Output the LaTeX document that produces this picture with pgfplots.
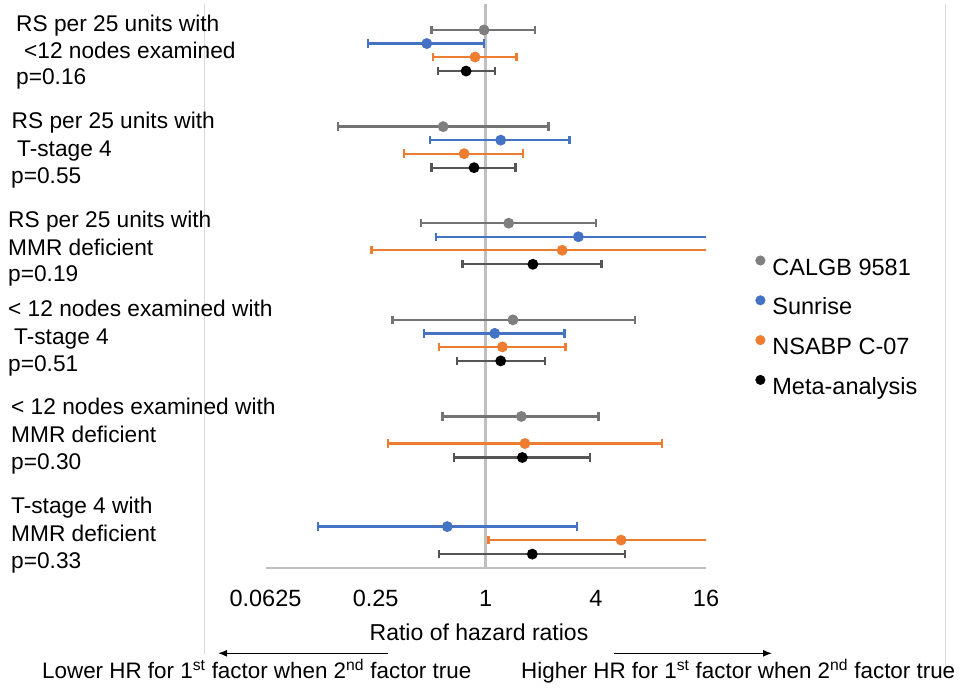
\documentclass[border=0pt]{standalone}
\usepackage{fontspec}
\setmainfont{Liberation Sans}
\usepackage{pgfplots}
\usepackage{pgfplotstable}
\pgfplotsset{compat=1.18}
\usetikzlibrary{arrows.meta}
\definecolor{cgray}{HTML}{7F7F7F}
\definecolor{cgrayci}{HTML}{737373}
\definecolor{cblue}{HTML}{4472C4}
\definecolor{corange}{HTML}{ED7D31}
\definecolor{cblack}{HTML}{000000}
\definecolor{cblackci}{HTML}{555555}
\definecolor{axisgray}{HTML}{BFBFBF}
\definecolor{framegray}{HTML}{D9D9D9}

% y = row position (group index + offset), x = ratio, lo/hi = CI bounds
\pgfplotstableread{
y x lo hi
0 0.979 0.506 1.856
1 0.585 0.156 2.204
2 1.335 0.441 4.01
3 1.408 0.309 6.57
4 1.565 0.581 4.14
}\tabgray
\pgfplotstableread{
y x lo hi
0.14 0.476 0.228 0.980
1.14 1.207 0.497 2.868
2.14 3.21 0.534 40
3.14 1.120 0.461 2.695
5.14 0.616 0.1205 3.14
}\tabblue
\pgfplotstableread{
y x lo hi
0.28 0.874 0.516 1.470
1.28 0.762 0.357 1.597
2.28 2.617 0.237 40
3.28 1.233 0.557 2.729
4.28 1.637 0.291 9.18
5.28 5.49 1.034 40
}\taborange
\pgfplotstableread{
y x lo hi
0.425 0.781 0.546 1.120
1.425 0.863 0.506 1.452
2.425 1.810 0.746 4.30
3.425 1.207 0.698 2.104
4.425 1.585 0.669 3.73
5.425 1.796 0.557 5.77
}\tabblack

\newcommand{\lbl}[3]{\node[anchor=base west, inner sep=0pt, font=\fontsize{22.7}{26}\selectfont] at (#1pt,-#2pt) {#3};}

\begin{document}
\begin{tikzpicture}
\path[use as bounding box] (0pt,0pt) rectangle (965pt,-689pt);

% chart frame lines
\draw[framegray, line width=1pt] (204.5pt,-4pt) -- (204.5pt,-654pt);
\draw[framegray, line width=1pt] (945pt,-4pt) -- (945pt,-669pt);

\begin{axis}[
  at={(265.5pt,-568.3pt)}, anchor=south west,
  scale only axis, width=440.5pt, height=564.3pt,
  xmode=log, log basis x=2,
  xmin=0.0625, xmax=16,
  ymin=-0.269, ymax=5.572, y dir=reverse,
  axis x line=bottom, axis y line=none,
  x axis line style={draw=axisgray, line width=1.7pt, -},
  xtick={0.0625,0.25,1,4,16},
  xticklabels={0.0625,0.25,1,4,16},
  major tick length=0pt, ytick=\empty,
  /pgf/number format/assume math mode=true,
  xticklabel style={font=\fontsize{23.5}{26}\selectfont, anchor=base, yshift=-37.7pt},
  xlabel={Ratio of hazard ratios},
  xlabel style={font=\fontsize{23}{26}\selectfont, at={(axis description cs:0.4847,0)}, anchor=base, yshift=-71.7pt},
  clip=true,
  legend style={at={(1.1117,0.5547)}, anchor=north west, draw=none, fill=none,
    inner sep=0pt, row sep=15.3pt,
    font=\fontsize{23.5}{26}\selectfont,
    nodes={inner sep=1pt, text height=17pt, text depth=4pt},
    /tikz/every odd column/.style={column sep=6pt}},
  legend cell align=left,
  legend image code/.code={\fill (0pt,8pt) circle (4.8pt);},
  error bars/x dir=both, error bars/x explicit,
]
\addplot[axisgray, line width=2.6pt, forget plot] coordinates {(1,-0.269) (1,5.572)};

\addplot[only marks, mark=*, color=cgray, mark size=4.9pt, mark options={line width=1pt},
  error bars/error bar style={line width=2.3pt, color=cgrayci},
  error bars/error mark options={line width=2.3pt, mark size=4.2pt, color=cgrayci, rotate=90}]
  table[x=x, y=y, x error plus expr=\thisrow{hi}-\thisrow{x}, x error minus expr=\thisrow{x}-\thisrow{lo}] {\tabgray};
\addlegendentry{CALGB 9581}

\addplot[only marks, mark=*, color=cblue, mark size=4.9pt, mark options={line width=1pt},
  error bars/error bar style={line width=2.3pt, color=cblue},
  error bars/error mark options={line width=2.3pt, mark size=4.2pt, color=cblue, rotate=90}]
  table[x=x, y=y, x error plus expr=\thisrow{hi}-\thisrow{x}, x error minus expr=\thisrow{x}-\thisrow{lo}] {\tabblue};
\addlegendentry{Sunrise}

\addplot[only marks, mark=*, color=corange, mark size=4.9pt, mark options={line width=1pt},
  error bars/error bar style={line width=2.3pt, color=corange},
  error bars/error mark options={line width=2.3pt, mark size=4.2pt, color=corange, rotate=90}]
  table[x=x, y=y, x error plus expr=\thisrow{hi}-\thisrow{x}, x error minus expr=\thisrow{x}-\thisrow{lo}] {\taborange};
\addlegendentry{NSABP C-07}

\addplot[only marks, mark=*, color=cblack, mark size=4.9pt, mark options={line width=1pt},
  error bars/error bar style={line width=2.3pt, color=cblackci},
  error bars/error mark options={line width=2.3pt, mark size=4.2pt, color=cblackci, rotate=90}]
  table[x=x, y=y, x error plus expr=\thisrow{hi}-\thisrow{x}, x error minus expr=\thisrow{x}-\thisrow{lo}] {\tabblack};
\addlegendentry{Meta-analysis}
\end{axis}

% group labels
\lbl{16}{31.7}{RS per 25 units with}
\lbl{24}{58.3}{<12 nodes examined}
\lbl{16}{84}{p=0.16}
\lbl{11.5}{128.3}{RS per 25 units with}
\lbl{17}{156.7}{T-stage 4}
\lbl{11}{183.3}{p=0.55}
\lbl{8}{227.3}{RS per 25 units with}
\lbl{8}{255}{MMR deficient}
\lbl{8}{281.7}{p=0.19}
\lbl{8}{316.7}{< 12 nodes examined with}
\lbl{14}{344.3}{T-stage 4}
\lbl{8}{371.7}{p=0.51}
\lbl{11}{414.3}{< 12 nodes examined with}
\lbl{11}{442.7}{MMR deficient}
\lbl{11}{469.3}{p=0.30}
\lbl{11}{513.3}{T-stage 4 with}
\lbl{11}{541.7}{MMR deficient}
\lbl{11}{568.3}{p=0.33}

% direction arrows
\draw[-{Latex[length=9pt,width=7pt]}, line width=1.2pt] (388pt,-653.3pt) -- (218pt,-653.3pt);
\draw[-{Latex[length=9pt,width=7pt]}, line width=1.2pt] (614pt,-653.3pt) -- (772pt,-653.3pt);
\node[anchor=base west, inner sep=0pt, font=\fontsize{22.4}{26}\selectfont] at (42pt,-678.3pt)
  {Lower HR for 1\textsuperscript{st} factor when 2\textsuperscript{nd} factor true};
\node[anchor=base west, inner sep=0pt, font=\fontsize{22.4}{26}\selectfont] at (521pt,-678.3pt)
  {Higher HR for 1\textsuperscript{st} factor when 2\textsuperscript{nd} factor true};
\end{tikzpicture}
\end{document}
